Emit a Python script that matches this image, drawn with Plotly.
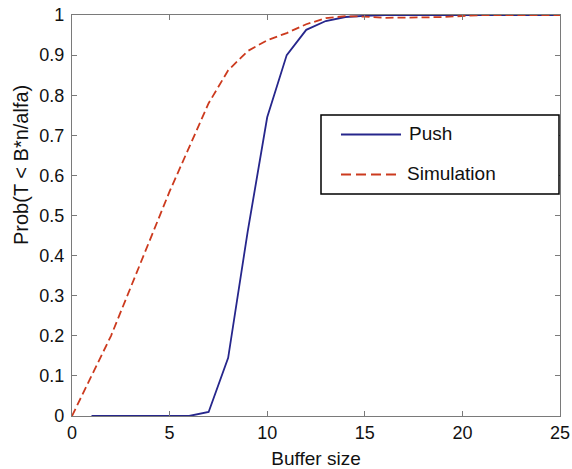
import plotly.graph_objects as go

# Data
push_x = list(range(1, 26))
push_y = [0, 0, 0, 0, 0, 0, 0.01, 0.145, 0.46, 0.745, 0.90, 0.963, 0.985, 0.995, 0.998,
          1.0, 1.0, 1.0, 1.0, 1.0, 1.0, 1.0, 1.0, 1.0, 1.0]
sim_x = list(range(0, 26))
sim_y = [0, 0.10, 0.20, 0.32, 0.44, 0.56, 0.67, 0.78, 0.862, 0.91, 0.937, 0.955, 0.977,
         0.992, 0.997, 0.996, 0.993, 0.993, 0.994, 0.995, 0.997, 1.0, 1.0, 1.0, 1.0, 1.0]

x_ticks = [0, 5, 10, 15, 20, 25]
y_ticks = [0, 0.1, 0.2, 0.3, 0.4, 0.5, 0.6, 0.7, 0.8, 0.9, 1]
y_ticklabels = ["0", "0.1", "0.2", "0.3", "0.4", "0.5", "0.6", "0.7", "0.8", "0.9", "1"]
series_names = ["Push", "Simulation"]

FONT = "Liberation Sans, Arial, sans-serif"
BLUE = "#26268c"
RED = "#cc3a1e"
AX = "#7a7a7a"

ML, MR, MT, MB = 72, 12, 15, 53
W, H = 572, 469
PW, PH = W - ML - MR, H - MT - MB

fig = go.Figure()
fig.add_trace(go.Scatter(x=push_x, y=push_y, mode="lines", name=series_names[0],
                         line=dict(color=BLUE, width=1.8), showlegend=False))
fig.add_trace(go.Scatter(x=sim_x, y=sim_y, mode="lines", name=series_names[1],
                         line=dict(color=RED, width=1.8, dash="8px,4px"), showlegend=False))

axis_common = dict(showline=True, linecolor=AX, linewidth=1.3, mirror="ticks",
                   ticks="inside", ticklen=5, tickcolor=AX, showgrid=False,
                   zeroline=False, automargin=False,
                   tickfont=dict(family=FONT, size=18, color="#111"))

fig.update_xaxes(range=[0, 25], tickvals=x_ticks, ticklabeloverflow="allow",
                 title=dict(text="Buffer size", font=dict(family=FONT, size=19, color="#111"),
                            standoff=10), **axis_common)
fig.update_yaxes(range=[0, 1], tickvals=y_ticks, ticktext=y_ticklabels,
                 ticklabeloverflow="allow", ticklabelstandoff=3, **axis_common)

# y-axis title (placed as in the reference, above the axis centre)
def px_x(p):
    return (p - ML) / float(PW)

def px_y(p):
    return (MT + PH - p) / float(PH)

fig.add_annotation(text="Prob(T < B*n/alfa)", xref="paper", yref="paper",
                   x=px_x(21), y=px_y(165), xanchor="center", yanchor="middle",
                   textangle=-90, showarrow=False,
                   font=dict(family=FONT, size=20, color="#111"))

# Legend box drawn manually
R = ML + PW  # right edge of plot area
fig.add_shape(type="rect", xref="paper", yref="paper",
              x0=px_x(R - 239), x1=px_x(R - 1), y0=px_y(194), y1=px_y(115),
              line=dict(color="black", width=1.5), fillcolor="white", layer="above")
fig.add_shape(type="line", xref="paper", yref="paper",
              x0=px_x(R - 219), x1=px_x(R - 159), y0=px_y(134.5), y1=px_y(134.5),
              line=dict(color=BLUE, width=1.8), layer="above")
fig.add_shape(type="line", xref="paper", yref="paper",
              x0=px_x(R - 219), x1=px_x(R - 161), y0=px_y(174.5), y1=px_y(174.5),
              line=dict(color=RED, width=1.8, dash="10px,5px"), layer="above")
fig.add_annotation(text=series_names[0], xref="paper", yref="paper",
                   x=px_x(R - 153), y=px_y(134), xanchor="left", yanchor="middle",
                   showarrow=False, font=dict(family=FONT, size=19, color="#111"))
fig.add_annotation(text=series_names[1], xref="paper", yref="paper",
                   x=px_x(R - 155), y=px_y(174), xanchor="left", yanchor="middle",
                   showarrow=False, font=dict(family=FONT, size=19, color="#111"))

fig.update_layout(
    width=W, height=H,
    margin=dict(l=ML, r=MR, t=MT, b=MB),
    plot_bgcolor="white", paper_bgcolor="white",
    font=dict(family=FONT, size=18, color="#111"),
    showlegend=False,
)

fig.write_html("out.html")
